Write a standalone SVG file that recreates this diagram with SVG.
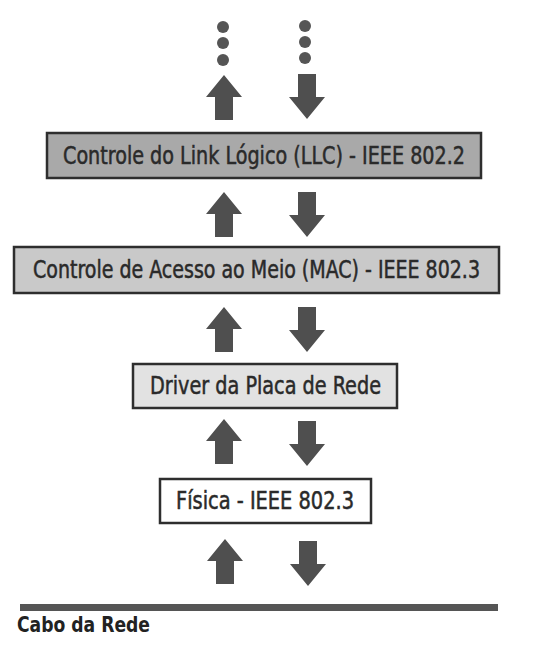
<svg xmlns="http://www.w3.org/2000/svg" xmlns:xlink="http://www.w3.org/1999/xlink" width="544" height="656" viewBox="0 0 544 656">
  <style>
    .box { stroke: #2e2e2e; stroke-width: 2.5; }
    .lbl { font-family: "DejaVu Sans Condensed", "DejaVu Sans", sans-serif; font-size: 24px; fill: #2a2a2a; stroke: #2a2a2a; stroke-width: 0.5; text-anchor: start; }
    .arrow { fill: #4f4f4f; }
    .dot { fill: #555555; }
    .cabo { font-family: "DejaVu Sans Condensed", "DejaVu Sans", sans-serif; font-weight: bold; font-size: 21px; fill: #222222; }
  </style>
  <defs>
    <path id="up" class="arrow" d="M0,0 L18,22 L9,22 L9,45 L-9,45 L-9,22 L-18,22 Z"/>
    <path id="down" class="arrow" d="M0,45 L18,23 L9,23 L9,0 L-9,0 L-9,23 L-18,23 Z"/>
  </defs>
  <rect width="544" height="656" fill="#ffffff"/>

  <g id="continuation">
    <circle class="dot" cx="223" cy="27" r="6"/>
    <circle class="dot" cx="223" cy="43" r="6"/>
    <circle class="dot" cx="223" cy="60" r="6"/>
    <circle class="dot" cx="305" cy="26" r="6"/>
    <circle class="dot" cx="305" cy="42" r="6"/>
    <circle class="dot" cx="305" cy="58" r="6"/>
  </g>

  <g id="connectors">
    <use xlink:href="#up" x="224" y="75"/>
    <use xlink:href="#down" x="307" y="74"/>
    <use xlink:href="#up" x="224" y="192"/>
    <use xlink:href="#down" x="307" y="192"/>
    <use xlink:href="#up" x="224" y="307"/>
    <use xlink:href="#down" x="307" y="307"/>
    <use xlink:href="#up" x="224" y="419"/>
    <use xlink:href="#down" x="307" y="421"/>
    <use xlink:href="#up" x="225" y="539"/>
    <use xlink:href="#down" x="308" y="541"/>
  </g>

  <g id="llc">
    <rect class="box" x="47" y="133" width="434" height="45" fill="#a9a9a9"/>
    <text class="lbl" x="63" y="164" textLength="402" lengthAdjust="spacingAndGlyphs">Controle do Link Lógico (LLC) - IEEE 802.2</text>
  </g>

  <g id="mac">
    <rect class="box" x="14" y="247" width="485" height="46" fill="#c9c9c9"/>
    <text class="lbl" x="33" y="278" textLength="447" lengthAdjust="spacingAndGlyphs">Controle de Acesso ao Meio (MAC) - IEEE 802.3</text>
  </g>

  <g id="driver">
    <rect class="box" x="133" y="364" width="264" height="44" fill="#e2e2e2"/>
    <text class="lbl" x="150" y="394" textLength="231" lengthAdjust="spacingAndGlyphs">Driver da Placa de Rede</text>
  </g>

  <g id="fisica">
    <rect class="box" x="160" y="479" width="211" height="44" fill="#ffffff"/>
    <text class="lbl" x="176" y="509" textLength="178" lengthAdjust="spacingAndGlyphs">Física - IEEE 802.3</text>
  </g>

  <g id="cabo">
    <rect x="20" y="604" width="478" height="7" fill="#555555"/>
    <text class="cabo" x="17" y="632" textLength="133" lengthAdjust="spacingAndGlyphs">Cabo da Rede</text>
  </g>
</svg>
